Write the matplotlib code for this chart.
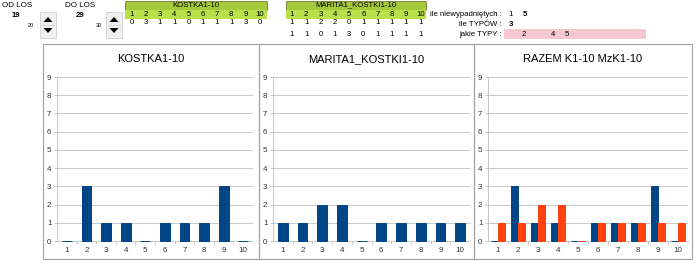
import numpy as np
import matplotlib
matplotlib.use("Agg")
import matplotlib.pyplot as plt
from matplotlib.patches import Rectangle, Polygon

plt.rcParams['font.family'] = ['Liberation Sans', 'DejaVu Sans']

# data
columns = [1, 2, 3, 4, 5, 6, 7, 8, 9, 10]
kostka = [0, 3, 1, 1, 0, 1, 1, 1, 3, 0]
marita = [1, 1, 2, 2, 0, 1, 1, 1, 1, 1]
marita_row2 = [1, 1, 0, 1, 3, 0, 1, 1, 1, 1]
od_los, od_next = 19, 20
do_los, do_next = 29, 30
niewyp = ['1', '5']
ile_typow = 3
jakie_typy = ['2', '', '4', '5']
titles = ['KOSTKA1-10', 'MARITA1_KOSTKI1-10', 'RAZEM K1-10 MzK1-10']

BLUE = '#004586'
ORANGE = '#ff420e'
W, H = 700, 263

fig = plt.figure(figsize=(7, 2.63), dpi=100)


def fx(x):
    return x / W


def fy(y):
    return 1 - y / H


def txt(x, y, s, **kw):
    kw.setdefault('fontsize', 5.6)
    kw.setdefault('ha', 'center')
    kw.setdefault('va', 'center')
    fig.text(fx(x), fy(y), s, **kw)


def rect(x0, y0, x1, y1, **kw):
    fig.patches.append(Rectangle((fx(x0), fy(y1)), fx(x1 - x0), (y1 - y0) / H,
                                 transform=fig.transFigure, figure=fig, **kw))


def spinner(x0, y0, x1, y1):
    rect(x0, y0, x1, y1, facecolor='#f0f0f0', edgecolor='#d0d0d0', linewidth=0.6)
    cx = (x0 + x1) / 2
    ym = (y0 + y1) / 2
    fig.add_artist(plt.Line2D([fx(x0 + 2), fx(x1 - 2)], [fy(ym), fy(ym)],
                              color='#c8c8c8', linewidth=0.5))
    for tip, base in [(ym - 8, ym - 3), (ym + 8, ym + 3)]:
        pts = [(fx(cx - 4.5), fy(base)), (fx(cx + 4.5), fy(base)), (fx(cx), fy(tip))]
        fig.patches.append(Polygon(pts, closed=True, transform=fig.transFigure,
                                   figure=fig, facecolor='black', edgecolor='none'))


# top controls
txt(17, 5.5, 'OD LOS', fontsize=5.8)
txt(16, 15.5, str(od_los), fontweight='bold', fontsize=5.6)
txt(31, 25.5, str(od_next), fontsize=4)
spinner(40, 12, 56, 38)
txt(80, 5.5, 'DO LOS', fontsize=5.8)
txt(80, 15.5, str(do_los), fontweight='bold', fontsize=5.6)
txt(99, 25.5, str(do_next), fontsize=4)
spinner(106, 12, 122, 38)


def table(x0, x1, first, title, rows):
    rect(x0, 0.5, x1, 9.5, facecolor='#a5c93a', edgecolor='#556b1a', linewidth=0.5)
    rect(x0, 9.5, x1, 18.5, facecolor='#b8e04a', edgecolor='none')
    txt((x0 + x1) / 2, 5.2, title)
    for i, c in enumerate(columns):
        txt(first + 14.25 * i, 14.5, str(c))
        for r, row in enumerate(rows):
            txt(first + 14.25 * i, 23 + 11 * r, str(row[i]))


table(125, 267, 131.5, 'KOSTKA1-10', [kostka])
table(286, 426, 292, 'MARITA1_KOSTKI1-10', [marita, marita_row2])

# right info
txt(502, 15, 'ile niewypadniętych :', ha='right')
txt(511, 15, niewyp[0])
txt(525, 15, niewyp[1], fontweight='bold')
txt(502, 24.5, 'ile TYPÓW :', ha='right')
txt(511, 24.5, str(ile_typow), fontweight='bold')
rect(504, 29, 646, 38.5, facecolor='#f6c9d0', edgecolor='none')
txt(502, 34, 'jakie TYPY :', ha='right')
for i, t in enumerate(jakie_typy):
    txt(524 + 14.4 * i, 34, t)

# chart panels
panels = [(43, 259), (259, 474), (474, 692)]
plot_x = [(57, 253), (273, 470), (488, 688)]
for (bx0, bx1) in panels:
    rect(bx0, 43.5, bx1, 259, facecolor='none', edgecolor='#a0a0a0', linewidth=0.8)

x = np.array(columns)
bar_kw = dict(linewidth=0.7, zorder=3, clip_on=False)
for k, ((px0, px1), (bx0, bx1)) in enumerate(zip(plot_x, panels)):
    ax = fig.add_axes([fx(px0), fy(241), (px1 - px0) / W, (241 - 77) / H])
    if k == 0:
        ax.bar(x, kostka, width=0.5, color=BLUE, edgecolor=BLUE, **bar_kw)
    elif k == 1:
        ax.bar(x, marita, width=0.5, color=BLUE, edgecolor=BLUE, **bar_kw)
    else:
        ax.bar(x - 0.167, kostka, width=0.334, color=BLUE, edgecolor=BLUE, **bar_kw)
        ax.bar(x + 0.167, marita, width=0.334, color=ORANGE, edgecolor=ORANGE, **bar_kw)
    ax.set_xlim(0.5, 10.5)
    ax.set_ylim(0, 9)
    ax.set_yticks(range(10))
    ax.set_xticks(x)
    ax.set_xticks(np.arange(1.5, 10.5, 1), minor=True)
    ax.tick_params(axis='x', which='major', length=0, labelsize=5.8, labelcolor='#333333', pad=4)
    ax.tick_params(axis='x', which='minor', length=2, color='#b3b3b3', width=0.5)
    ax.tick_params(axis='y', length=2, color='#b3b3b3', width=0.5, labelsize=5.8,
                   labelcolor='#333333', pad=2)
    ax.grid(axis='y', color='#b3b3b3', linewidth=0.5)
    ax.set_axisbelow(True)
    for s in ['top', 'right']:
        ax.spines[s].set_visible(False)
    for s in ['left', 'bottom']:
        ax.spines[s].set_color('#b3b3b3')
        ax.spines[s].set_linewidth(0.5)
    ax.patch.set_alpha(0)
    txt((bx0 + bx1) / 2, 59, titles[k], fontsize=8)

fig.savefig('out.png', dpi=100)
